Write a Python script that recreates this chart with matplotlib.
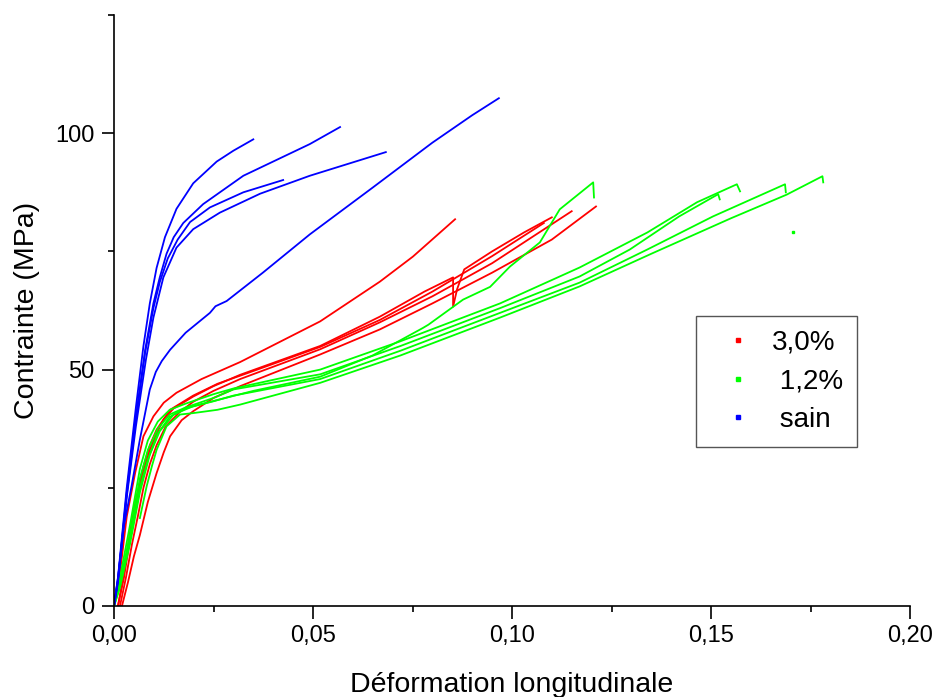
import numpy as np
import matplotlib.pyplot as plt
from matplotlib.ticker import MultipleLocator, FuncFormatter
from matplotlib.lines import Line2D

plt.rcParams['font.family'] = ['Liberation Sans', 'DejaVu Sans']

# courbes contrainte / deformation (deformation, MPa)
sain = [
    [(0, 0), (0.001, 6), (0.0032, 25), (0.0055, 42), (0.0074, 55), (0.009, 64), (0.0107, 71.5),
     (0.0128, 78), (0.0157, 84), (0.0199, 89.4), (0.0258, 94), (0.03, 96.3), (0.035, 98.7)],
    [(0, 0), (0.001, 5.5), (0.0032, 24), (0.0055, 40), (0.0078, 54), (0.0099, 64), (0.0115, 69.5),
     (0.0132, 74.5), (0.015, 78), (0.0174, 81), (0.0224, 85), (0.0325, 91), (0.0492, 97.7), (0.0568, 101.3)],
    [(0, 0), (0.001, 5.5), (0.0032, 23.5), (0.0055, 39.5), (0.0078, 53.5), (0.0099, 63), (0.0115, 68.5),
     (0.0135, 73.5), (0.016, 77.5), (0.0191, 81.2), (0.0241, 84.3), (0.0325, 87.5), (0.0425, 90.1)],
    [(0, 0), (0.001, 5), (0.0032, 23), (0.0055, 38), (0.008, 52), (0.0099, 61), (0.0124, 69.5),
     (0.0157, 75.8), (0.0199, 79.7), (0.0266, 83.2), (0.0367, 87.2), (0.0492, 91), (0.0683, 96)],
    [(0, 0), (0.001, 6), (0.0025, 17), (0.0044, 25.3), (0.0065, 35.2), (0.009, 45.8), (0.0105, 49.5),
     (0.012, 51.8), (0.0141, 54.2), (0.018, 57.8), (0.0241, 62), (0.0255, 63.4), (0.0283, 64.5),
     (0.0374, 70.5), (0.0492, 78.6), (0.065, 88.5), (0.08, 98), (0.09, 103.8), (0.0967, 107.4)],
]

c30 = [
    [(0, 0), (0.0015, 7), (0.0032, 18.9), (0.0053, 28.1), (0.0074, 35.9), (0.0099, 40.1), (0.0125, 43),
     (0.0157, 45.1), (0.022, 48), (0.0317, 51.6), (0.0518, 60.2), (0.0668, 68.6), (0.0751, 73.9), (0.0857, 81.8)],
    [(0.001, 0), (0.0025, 6), (0.004, 14), (0.0055, 21), (0.0074, 28.5), (0.009, 33), (0.0107, 36.5),
     (0.0125, 39.5), (0.015, 41.8), (0.0199, 44.3), (0.025, 46.5), (0.0317, 48.9), (0.0518, 55),
     (0.0668, 61.2), (0.078, 66.5), (0.0852, 69.5), (0.0852, 63.3), (0.0862, 67), (0.088, 71.2),
     (0.095, 75), (0.103, 79), (0.110, 82.2)],
    [(0.0015, 0), (0.003, 6), (0.0045, 13), (0.006, 19), (0.0074, 25), (0.009, 30), (0.0107, 34),
     (0.013, 38), (0.0165, 41), (0.0199, 43.2), (0.025, 45.5), (0.0317, 48), (0.0518, 54.3), (0.0668, 60),
     (0.08, 65.5), (0.095, 72.5), (0.105, 78), (0.115, 83.5)],
    [(0.002, 0), (0.0035, 5), (0.005, 10.5), (0.0065, 15), (0.0085, 22), (0.0107, 28.1), (0.0125, 32.5),
     (0.0141, 35.9), (0.017, 39.3), (0.0199, 41.2), (0.025, 44), (0.0317, 46.5), (0.0518, 53.2),
     (0.0668, 58.5), (0.08, 64), (0.095, 70.5), (0.11, 77.5), (0.1211, 84.5)],
    [(0.001, 0), (0.0025, 7), (0.004, 15.5), (0.0055, 22.5), (0.0074, 29.5), (0.009, 34), (0.0107, 37.3),
     (0.0141, 41.5), (0.0199, 44.5), (0.026, 47), (0.036, 50), (0.0518, 54.8), (0.0668, 60.5), (0.08, 66.5),
     (0.095, 74), (0.108, 81)],
]

c12 = [
    [(0.0065, 18.6), (0.0082, 25.3), (0.0095, 29.5), (0.0107, 33), (0.0132, 38), (0.0166, 40.5),
     (0.0199, 40.8), (0.026, 41.5), (0.0317, 42.6), (0.04, 44.5), (0.0518, 47.2), (0.072, 53), (0.097, 61),
     (0.117, 67.6), (0.135, 74.5), (0.155, 82), (0.169, 87), (0.178, 90.9), (0.1782, 89.6)],
    [(0, 0), (0.0015, 4), (0.004, 14), (0.0065, 25), (0.0085, 31), (0.011, 36.5), (0.014, 40),
     (0.018, 41.8), (0.025, 43.3), (0.03, 44.5), (0.0518, 48), (0.072, 54), (0.097, 62), (0.117, 68.4),
     (0.134, 75.4), (0.1505, 82.4), (0.1686, 89.2), (0.1688, 87.5)],
    [(0, 0), (0.0015, 5), (0.004, 15), (0.0065, 27), (0.0085, 33), (0.011, 37.5), (0.014, 40.5),
     (0.018, 42), (0.025, 44), (0.03, 45.8), (0.0518, 49), (0.072, 55), (0.097, 63), (0.117, 69.7),
     (0.1296, 75.4), (0.142, 82.4), (0.1518, 87.1), (0.1522, 86)],
    [(0, 0), (0.0015, 6), (0.004, 17), (0.0065, 29), (0.0085, 35), (0.011, 39), (0.014, 41.5),
     (0.018, 42.8), (0.025, 44.8), (0.03, 46), (0.0518, 50), (0.072, 56), (0.097, 64), (0.117, 71.6),
     (0.134, 79), (0.1465, 85.4), (0.1565, 89.2), (0.1573, 87.7)],
    [(0, 0), (0.0015, 4), (0.004, 13), (0.0065, 24), (0.009, 32), (0.0115, 37), (0.015, 40.5),
     (0.02, 42.3), (0.028, 44), (0.035, 45.5), (0.0518, 48.5), (0.065, 53), (0.0776, 58.8), (0.079, 59.5),
     (0.0877, 64.8), (0.0945, 67.5), (0.0995, 71.8), (0.107, 76.9), (0.112, 83.9), (0.1204, 89.6),
     (0.1206, 86.4)],
]
stray_12 = (0.1706, 79.2)

series = [(c30, '#ff0000', '3,0%'), (c12, '#00ff00', ' 1,2%'), (sain, '#0000ff', ' sain')]

fig = plt.figure(figsize=(9.36, 6.97), dpi=100)
ax = fig.add_axes([114/936, 91/697, 796/936, 591/697])

for curves, col, lab in series:
    for pts in curves:
        xs, ys = zip(*pts)
        ax.plot(xs, ys, color=col, lw=1.3)
ax.plot([stray_12[0]], [stray_12[1]], 's', color='#00ff00', ms=1.5)

ax.set_xlim(0, 0.20)
ax.set_ylim(0, 125)
ax.spines['top'].set_visible(False)
ax.spines['right'].set_visible(False)
for s in ['left', 'bottom']:
    ax.spines[s].set_linewidth(1.2)

ax.xaxis.set_major_locator(MultipleLocator(0.05))
ax.xaxis.set_minor_locator(MultipleLocator(0.025))
ax.yaxis.set_major_locator(MultipleLocator(50))
ax.yaxis.set_minor_locator(MultipleLocator(25))
ax.xaxis.set_major_formatter(FuncFormatter(lambda v, p: f"{v:.2f}".replace('.', ',')))
ax.yaxis.set_major_formatter(FuncFormatter(lambda v, p: f"{v:.0f}"))
ax.tick_params(which='major', direction='out', length=9, width=1.2, labelsize=17, pad=5)
ax.tick_params(which='minor', direction='out', length=4.5, width=1.2)

ax.set_xlabel('Déformation longitudinale', fontsize=20.5, labelpad=18)
ax.set_ylabel('Contrainte (MPa)', fontsize=20.5, labelpad=11)

handles = [Line2D([], [], ls='none', marker='s', ms=3, color=c) for _, c, _ in series]
labels = [lab for _, _, lab in series]
leg = ax.legend(handles, labels, loc='upper left', bbox_to_anchor=(696/936, 1 - 316/697),
                bbox_transform=fig.transFigure, borderaxespad=0, fontsize=20, fancybox=False,
                framealpha=1, edgecolor='#555555', borderpad=0.5, handlelength=2.0,
                handletextpad=0.25, labelspacing=0.45)
leg.get_frame().set_linewidth(1.0)

fig.savefig('out.png', dpi=100)
